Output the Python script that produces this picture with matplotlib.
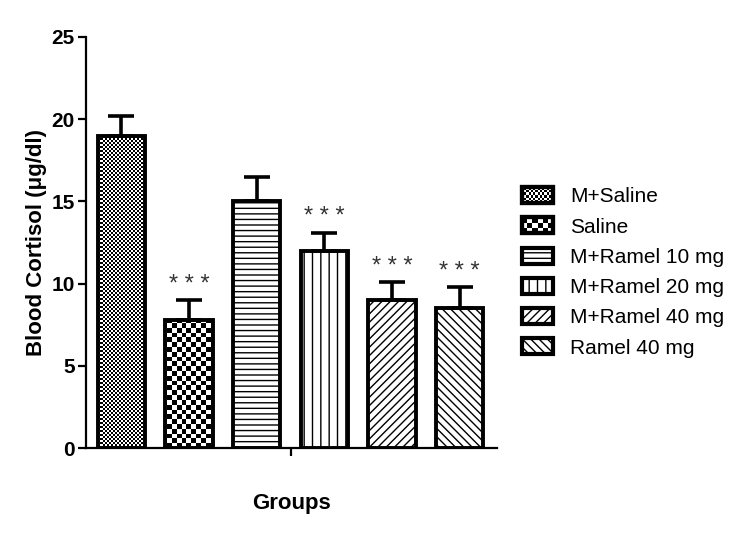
import numpy as np
import matplotlib
matplotlib.use("Agg")
import matplotlib.pyplot as plt
from matplotlib.patches import Rectangle
from matplotlib.legend_handler import HandlerBase

# data
groups = ["M+Saline", "Saline", "M+Ramel 10 mg", "M+Ramel 20 mg", "M+Ramel 40 mg", "Ramel 40 mg"]
means = [19.0, 7.8, 15.0, 12.0, 9.0, 8.5]
sems = [1.2, 1.2, 1.5, 1.1, 1.1, 1.3]
stars = ["", "***", "", "***", "***", "***"]
hatches = ["checker_fine", "checker", "---", "||", "////", "\\\\\\\\"]

plt.rcParams['font.family'] = ['Liberation Sans', 'DejaVu Sans']
plt.rcParams['hatch.linewidth'] = 1.0
plt.rcParams['hatch.color'] = 'black'

fig = plt.figure(figsize=(7.5, 5.34), dpi=100)
ax = fig.add_axes([0.1147, 0.161, 0.548, 0.77])

x = np.arange(len(groups))


def checker(n):
    a = np.indices((n, n)).sum(axis=0) % 2
    return a


bars = []
for i, (m, h) in enumerate(zip(means, hatches)):
    is_chk = h.startswith("checker")
    b = ax.bar(x[i], m, width=0.7, color="none" if is_chk else "white", edgecolor="black",
               linewidth=2.8, hatch=None if is_chk else h, zorder=2)[0]
    bars.append(b)

# checkerboard fills clipped to the bars
for b, h in zip(bars, hatches):
    if h == "checker_fine":
        n = 206
    elif h == "checker":
        n = 86
    else:
        continue
    im = ax.imshow(checker(n), cmap="gray", vmin=0, vmax=1, interpolation="nearest",
                   extent=(0, 1, 0, 1), transform=ax.transAxes, aspect="auto", zorder=1.5)
    im.set_clip_path(b)

ax.errorbar(x, means, yerr=[np.zeros(len(sems)), sems], fmt="none", ecolor="black",
            elinewidth=2.6, capsize=9.5, capthick=2.6, zorder=3)

for xi, m, s, st in zip(x, means, sems, stars):
    if st:
        ax.annotate("* * *", (xi, m + s), xytext=(0, 3), textcoords="offset points",
                    ha="center", va="bottom", fontsize=17, color="#333333")

ax.set_xlim(-0.52, 5.55)
ax.set_ylim(0, 25)
ax.set_yticks([0, 5, 10, 15, 20, 25])
ax.set_xticks([2.5])
ax.set_xticklabels([""])
for s in ["top", "right"]:
    ax.spines[s].set_visible(False)
for s in ["left", "bottom"]:
    ax.spines[s].set_linewidth(1.6)
ax.tick_params(axis="y", length=6, width=1.6, labelsize=15, pad=2)
ax.tick_params(axis="x", length=6, width=1.6)
for lbl in ax.get_yticklabels():
    lbl.set_fontweight("bold")
ax.set_ylabel("Blood Cortisol (μg/dl)", fontsize=16, fontweight="bold", labelpad=3.5)
ax.set_xlabel("Groups", fontsize=16, fontweight="bold", labelpad=23)


class CheckerHandler(HandlerBase):
    def __init__(self, nx, ny):
        super().__init__()
        self.nx = nx
        self.ny = ny

    def create_artists(self, legend, orig_handle, xdescent, ydescent, width, height, fontsize, trans):
        arts = [Rectangle((-xdescent, -ydescent), width, height, facecolor="white",
                          edgecolor="black", linewidth=3, transform=trans)]
        dw = width / self.nx
        dh = height / self.ny
        for i in range(self.nx):
            for j in range(self.ny):
                if (i + j) % 2 == 0:
                    arts.append(Rectangle((-xdescent + i * dw, -ydescent + j * dh), dw, dh,
                                          facecolor="black", edgecolor="none", transform=trans))
        arts.append(Rectangle((-xdescent, -ydescent), width, height, facecolor="none",
                              edgecolor="black", linewidth=3, transform=trans))
        return arts


class HatchHandler(HandlerBase):
    def create_artists(self, legend, orig_handle, xdescent, ydescent, width, height, fontsize, trans):
        r = Rectangle((-xdescent, -ydescent), width, height, facecolor="white",
                      edgecolor="black", linewidth=3, hatch=orig_handle.get_hatch(), transform=trans)
        return [r]


handler_map = {bars[0]: CheckerHandler(14, 6), bars[1]: CheckerHandler(6, 3)}
for b in bars[2:]:
    handler_map[b] = HatchHandler()
leg = fig.legend(bars, groups, loc="center left", bbox_to_anchor=(0.671, 0.49),
                 frameon=False, fontsize=15, handlelength=1.5, handleheight=0.8,
                 labelspacing=0.53, handletextpad=0.8, handler_map=handler_map)

fig.savefig("out.png", dpi=100)
